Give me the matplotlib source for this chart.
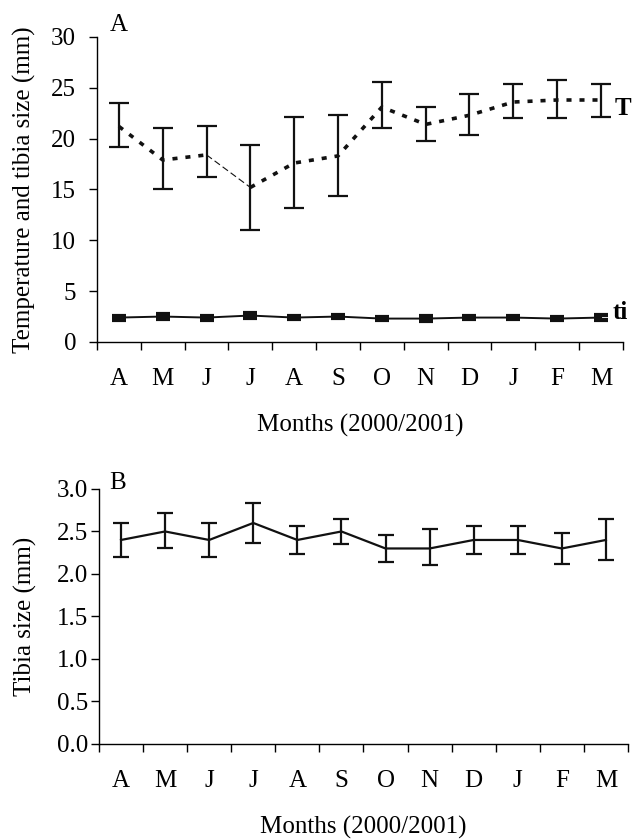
import numpy as np
import matplotlib
matplotlib.use("Agg")
import matplotlib.pyplot as plt
from matplotlib.ticker import FixedLocator, NullFormatter

plt.rcParams['font.family'] = ['Liberation Serif', 'DejaVu Serif']

months = ["A", "M", "J", "J", "A", "S", "O", "N", "D", "J", "F", "M"]

# temperature (T) with min/max bars
temp = [21.2, 17.9, 18.4, 15.2, 17.6, 18.3, 23.1, 21.4, 22.3, 23.6, 23.8, 23.8]
temp_lo = [19.2, 15.0, 16.2, 11.0, 13.2, 14.4, 21.0, 19.8, 20.4, 22.0, 22.0, 22.1]
temp_hi = [23.5, 21.0, 21.2, 19.4, 22.1, 22.3, 25.6, 23.1, 24.4, 25.4, 25.8, 25.4]

# tibia size (ti)
tibia = [2.4, 2.5, 2.4, 2.6, 2.4, 2.5, 2.3, 2.3, 2.4, 2.4, 2.3, 2.4]
tibia_lo = [2.20, 2.30, 2.20, 2.37, 2.23, 2.35, 2.14, 2.10, 2.23, 2.23, 2.12, 2.16]
tibia_hi = [2.60, 2.72, 2.60, 2.83, 2.57, 2.65, 2.46, 2.53, 2.57, 2.57, 2.48, 2.65]

x = np.arange(len(months))
temp = np.array(temp)
tibia = np.array(tibia)
t_err = [temp - np.array(temp_lo), np.array(temp_hi) - temp]
ti_err = [tibia - np.array(tibia_lo), np.array(tibia_hi) - tibia]

fig = plt.figure(figsize=(6.32, 8.4), dpi=100)
ax1 = fig.add_axes([0.1535, 0.5929, 0.832, 0.3631])
ax2 = fig.add_axes([0.1566, 0.1143, 0.837, 0.3036])


def style_axis(ax, ypad):
    ax.spines['top'].set_visible(False)
    ax.spines['right'].set_visible(False)
    ax.set_xlim(-0.5, len(months) - 0.5)
    ax.set_xticks(x)
    ax.set_xticklabels(months)
    ax.xaxis.set_minor_locator(FixedLocator(np.arange(-0.5, len(months), 1.0)))
    ax.xaxis.set_minor_formatter(NullFormatter())
    ax.tick_params(axis='x', which='major', length=0, pad=19, labelsize=18)
    ax.tick_params(axis='x', which='minor', length=6, width=1, direction='out')
    ax.tick_params(axis='y', length=6, width=1, direction='out', pad=ypad, labelsize=18)
    for s in ax.spines.values():
        s.set_linewidth(1)
    ax.set_xlabel("Months (2000/2001)", fontsize=18, labelpad=17)


# panel A
ek = dict(fmt='none', ecolor='#111111', elinewidth=1.6, capsize=7, capthick=1.6)
ax1.errorbar(x, temp, yerr=t_err, **ek)
dots = (0, (1.4, 2.2))
ax1.plot(x[:3], temp[:3], color='#111111', lw=2.6, linestyle=dots)
ax1.plot(x[2:4], temp[2:4], color='#111111', lw=0.8, linestyle=(0, (6, 3)))
ax1.plot(x[3:], temp[3:], color='#111111', lw=2.6, linestyle=dots)
ax1.errorbar(x, tibia, yerr=ti_err, fmt='none', ecolor='#111111',
             elinewidth=1.5, capsize=5, capthick=3)
ax1.plot(x, tibia, color='#111111', lw=1.4)
ax1.set_ylim(0, 30)
ax1.set_yticks([0, 5, 10, 15, 20, 25, 30])
style_axis(ax1, 9)
ax1.set_ylabel("Temperature and tibia size (mm)", fontsize=18, labelpad=11)
ax1.text(11.32, 23.0, "T", fontsize=18, fontweight='bold', va='center', ha='left', clip_on=False)
ax1.text(11.27, 2.85, "ti", fontsize=18, fontweight='bold', va='center', ha='left', clip_on=False)
ax1.text(0.025, 1.02, "A", transform=ax1.transAxes, fontsize=18, va='baseline')

# panel B
ax2.errorbar(x, tibia, yerr=ti_err, fmt='none', ecolor='#111111',
             elinewidth=1.6, capsize=5.5, capthick=1.6)
ax2.plot(x, tibia, color='#111111', lw=1.6)
ax2.set_ylim(0, 3.0)
ax2.set_yticks(np.arange(0, 3.01, 0.5))
ax2.set_yticklabels([f"{v:.1f}" for v in np.arange(0, 3.01, 0.5)])
style_axis(ax2, 2)
ax2.set_ylabel("Tibia size (mm)", fontsize=18, labelpad=14)
ax2.text(0.02, 1.0, "B", transform=ax2.transAxes, fontsize=18, va='baseline')

fig.savefig("out.png", dpi=100)
